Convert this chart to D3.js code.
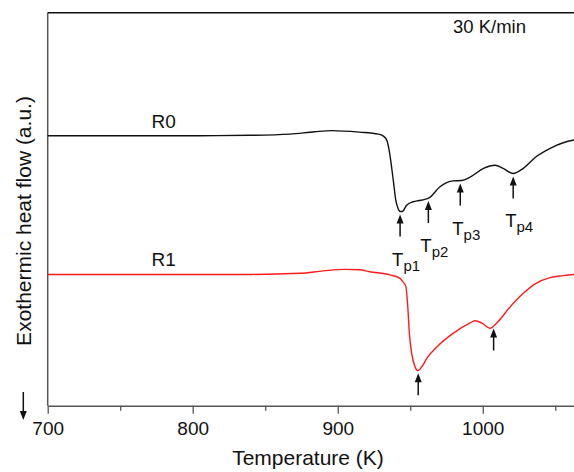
<!DOCTYPE html>
<html>
<head>
<meta charset="utf-8">
<script src="https://cdn.jsdelivr.net/npm/d3@7"></script>
<style>
  body { margin: 0; background: #fff; }
  svg { display: block; font-family: "Liberation Sans", Arial, sans-serif; }
</style>
</head>
<body>
<div id="chart"></div>
<script>
// DSC traces, temperature in K and heat flow in arbitrary units
var tempR0 = [700, 750, 805, 840, 867, 884, 896, 915, 928, 931.5, 934, 935.5, 938.3, 940, 941.5, 943, 944.5, 947.5, 952, 956, 960, 963, 970.5, 979.5, 985.5, 991, 1000.5, 1008.5, 1014, 1021, 1028, 1037, 1046.5, 1055.5, 1063, 1066];
var flowR0 = [68.7, 68.7, 68.7, 68.8, 69.1, 69.7, 70.0, 69.6, 69.1, 68.6, 67.4, 64.9, 57.4, 52.4, 50.3, 49.4, 49.4, 51.0, 51.9, 52.2, 52.5, 52.9, 55.7, 57.2, 57.3, 58.1, 60.4, 61.2, 60.4, 59.1, 60.4, 63.4, 65.5, 66.9, 67.6, 67.8];

var tempR1 = [700, 840, 874, 890, 905, 915, 922, 936, 943, 945, 947, 948.3, 949.4, 951, 953.3, 955.2, 958, 961.5, 968.5, 979.5, 991, 994.5, 999.5, 1005, 1009.5, 1019, 1028, 1037, 1046.5, 1055.5, 1063, 1066];
var flowR1 = [33.4, 33.4, 33.7, 34.3, 34.7, 34.6, 34.1, 33.3, 32.4, 31.5, 30.3, 25.2, 18.4, 13.3, 9.9, 8.9, 9.9, 12.1, 15.0, 18.4, 21.0, 21.6, 21.0, 19.7, 21.0, 25.2, 28.6, 31.2, 32.6, 33.1, 33.4, 33.5];

var xTickValues = [700, 750, 800, 850, 900, 950, 1000, 1050];
var xTickLabels = [700, 800, 900, 1000];

var peaksR0 = [943, 962.5, 984.5, 1021];
var peakNamesR0 = ["p1", "p2", "p3", "p4"];
var peaksR1 = [955.5, 1007.5];

var seriesNames = ["R0", "R1"];
var rateLabel = "30 K/min";

var width = 574, height = 472;
var plot = { left: 47.7, top: 12.7, bottom: 405.7, right: 577 };

var svg = d3.select("#chart").append("svg")
  .attr("width", width)
  .attr("height", height);

var x = d3.scaleLinear().domain([700, 1065]).range([plot.left, plot.right]);
var y = d3.scaleLinear().domain([0, 100]).range([plot.bottom, plot.top]);

// frame: grey left axis, black top line
svg.append("line")
  .attr("x1", plot.left).attr("x2", plot.left)
  .attr("y1", plot.top).attr("y2", plot.bottom)
  .attr("stroke", "#555").attr("stroke-width", 1.5);

svg.append("line")
  .attr("x1", plot.left).attr("x2", width)
  .attr("y1", plot.top).attr("y2", plot.top)
  .attr("stroke", "#111").attr("stroke-width", 1.5);

// bottom axis
var xAxis = d3.axisBottom(x)
  .tickValues(xTickValues)
  .tickSize(8)
  .tickSizeOuter(0)
  .tickFormat(function(d){ return xTickLabels.indexOf(d) >= 0 ? d : ""; });

var gx = svg.append("g")
  .attr("transform", "translate(0," + plot.bottom + ")")
  .call(xAxis);

gx.select(".domain").attr("stroke", "#555").attr("stroke-width", 1.5);
gx.selectAll(".tick line")
  .attr("stroke", "#555").attr("stroke-width", 1.3)
  .attr("y2", function(d){ return xTickLabels.indexOf(d) >= 0 ? 8 : 5; });
gx.selectAll(".tick text")
  .attr("y", 16)
  .attr("dy", "0.71em")
  .attr("fill", "#111")
  .style("font-size", "19px")
  .style("font-family", "'Liberation Sans', Arial, sans-serif");

// axis titles
svg.append("text")
  .attr("x", 308).attr("y", 465)
  .attr("text-anchor", "middle")
  .attr("fill", "#111")
  .style("font-size", "21px")
  .text("Temperature (K)");

svg.append("text")
  .attr("transform", "translate(31,221) rotate(-90)")
  .attr("text-anchor", "middle")
  .attr("fill", "#111")
  .style("font-size", "21px")
  .text("Exothermic heat flow (a.u.)");

// curves
var line = d3.line()
  .x(function(d){ return x(d[0]); })
  .y(function(d){ return y(d[1]); })
  .curve(d3.curveMonotoneX);

var seriesR0 = tempR0.map(function(t, i){ return [t, flowR0[i]]; });
var seriesR1 = tempR1.map(function(t, i){ return [t, flowR1[i]]; });

svg.append("path")
  .datum(seriesR0)
  .attr("d", line)
  .attr("fill", "none")
  .attr("stroke", "#111")
  .attr("stroke-width", 1.4);

svg.append("path")
  .datum(seriesR1)
  .attr("d", line)
  .attr("fill", "none")
  .attr("stroke", "#ff1a1a")
  .attr("stroke-width", 1.4);

// series labels
var labelTemp = 780;
var flowAt = function(temps, flows, t){
  var i = d3.bisectLeft(temps, t);
  if (i <= 0) return flows[0];
  if (i >= temps.length) return flows[flows.length - 1];
  var f = (t - temps[i-1]) / (temps[i] - temps[i-1]);
  return flows[i-1] + f * (flows[i] - flows[i-1]);
};

[[tempR0, flowR0], [tempR1, flowR1]].forEach(function(s, i){
  svg.append("text")
    .attr("x", x(labelTemp))
    .attr("y", y(flowAt(s[0], s[1], labelTemp)) - 8)
    .attr("text-anchor", "middle")
    .attr("fill", "#111")
    .style("font-size", "19px")
    .text(seriesNames[i]);
});

svg.append("text")
  .attr("x", 453).attr("y", 33)
  .attr("fill", "#111")
  .style("font-size", "18.5px")
  .text(rateLabel);

// up arrows under the peaks
var arrowGap = 3, arrowLen = 22;
var drawArrow = function(px, tipY, tailY){
  var dir = tailY > tipY ? 1 : -1;
  svg.append("line")
    .attr("x1", px).attr("x2", px)
    .attr("y1", tipY + dir * 6).attr("y2", tailY)
    .attr("stroke", "#111").attr("stroke-width", 1.5);
  svg.append("path")
    .attr("d", "M" + px + "," + tipY + "L" + (px - 3.5) + "," + (tipY + dir * 9) +
               "L" + (px + 3.5) + "," + (tipY + dir * 9) + "Z")
    .attr("fill", "#111");
};

peaksR0.forEach(function(t, i){
  var px = x(t);
  var tip = y(flowAt(tempR0, flowR0, t)) + arrowGap;
  var tail = tip + arrowLen;
  drawArrow(px, tip, tail);
  var lab = svg.append("text")
    .attr("x", px - 8).attr("y", tail + 29)
    .attr("fill", "#111")
    .style("font-size", "18.5px");
  lab.append("tspan").text("T");
  lab.append("tspan").attr("dy", 5).style("font-size", "15px").text(peakNamesR0[i]);
});

peaksR1.forEach(function(t){
  var px = x(t);
  var tip = y(flowAt(tempR1, flowR1, t)) + arrowGap;
  drawArrow(px, tip, tip + arrowLen);
});

// "exo down" arrow at the lower left
drawArrow(23.3, 420, 392);
</script>
</body>
</html>
